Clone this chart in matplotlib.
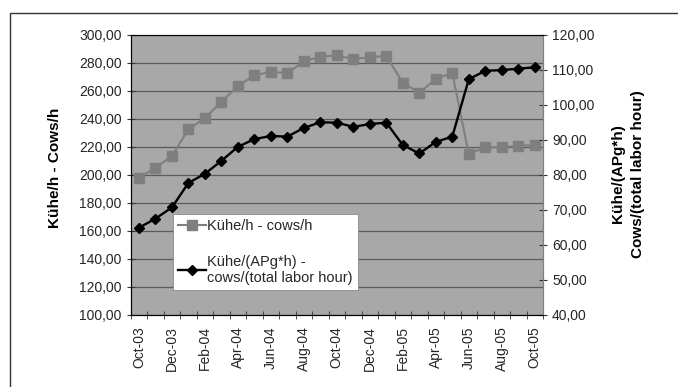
import numpy as np
import matplotlib
matplotlib.use("Agg")
import matplotlib.pyplot as plt
from matplotlib.ticker import FuncFormatter
from matplotlib.patches import Rectangle

plt.rcParams['font.family'] = ['Liberation Sans', 'DejaVu Sans']

# monthly values Oct-03 .. Oct-05
months = ['Oct-03', 'Nov-03', 'Dec-03', 'Jan-04', 'Feb-04', 'Mar-04', 'Apr-04',
          'May-04', 'Jun-04', 'Jul-04', 'Aug-04', 'Sep-04', 'Oct-04', 'Nov-04',
          'Dec-04', 'Jan-05', 'Feb-05', 'Mar-05', 'Apr-05', 'May-05', 'Jun-05',
          'Jul-05', 'Aug-05', 'Sep-05', 'Oct-05']
cows_h = [198, 205, 213.5, 232.5, 240.5, 252, 263.5, 271, 273.5, 272.5, 281,
          284.3, 285.3, 282.5, 284, 284.8, 265.7, 258.6, 268.4, 272.8, 214.8,
          219.8, 219.6, 220.7, 221.4]
cows_labor = [64.9, 67.5, 70.7, 77.7, 80.3, 84.0, 88.0, 90.2, 91.1, 90.9, 93.4,
              95.0, 94.9, 93.7, 94.5, 94.9, 88.5, 86.1, 89.4, 90.9, 107.3,
              109.7, 109.9, 110.3, 110.7]

label1 = 'Kühe/h - cows/h'
label2 = 'Kühe/(APg*h) -\ncows/(total labor hour)'

fig = plt.figure(figsize=(6.78, 3.87), dpi=100)
fig.patches.append(Rectangle((10 / 678, -0.1), 1.2, 1 - 13 / 387 + 0.1,
                             transform=fig.transFigure, fill=False,
                             edgecolor='#333333', linewidth=1.0))

ax = fig.add_axes([130.7 / 678, 1 - 315 / 387, (543 - 130.7) / 678, (315 - 34.7) / 387])
ax.set_facecolor('#a8a8a8')
x = np.arange(len(months))

comma = FuncFormatter(lambda v, p: f'{v:.2f}'.replace('.', ','))
tick_col = '#262626'

l1, = ax.plot(x, cows_h, color='#7f7f7f', marker='s', markersize=6.5,
              linewidth=1.5, label=label1, zorder=3)
ax.set_ylim(100, 300)
ax.set_yticks(np.arange(100, 301, 20))
ax.yaxis.set_major_formatter(comma)
ax.yaxis.grid(True, color='#5a5a5a', linewidth=0.9)
ax.set_axisbelow(True)
ax.set_xlim(-0.5, len(months) - 0.5)
ax.set_xticks(x[::2])
ax.set_xticklabels(months[::2], rotation=90)
ax.set_xticks(np.arange(-0.5, len(months), 1), minor=True)
ax.tick_params(axis='x', which='major', length=0, pad=8, labelsize=10, labelcolor=tick_col)
ax.tick_params(axis='x', which='minor', direction='inout', length=6, color='#333333')
ax.tick_params(axis='y', direction='inout', length=6, labelsize=10, color='#333333',
               labelcolor=tick_col)
for s in ['top', 'right']:
    ax.spines[s].set_color('#7f7f7f')
for s in ['left', 'bottom']:
    ax.spines[s].set_color('#333333')

ax2 = ax.twinx()
l2, = ax2.plot(x, cows_labor, color='black', marker='D', markersize=5.5,
               linewidth=1.7, label=label2, zorder=3)
ax2.set_ylim(40, 120)
ax2.set_yticks(np.arange(40, 121, 10))
ax2.yaxis.set_major_formatter(comma)
ax2.tick_params(axis='y', direction='inout', length=6, labelsize=10, color='#333333',
                labelcolor=tick_col)
ax2.spines['right'].set_color('#7f7f7f')

leg = ax2.legend(handles=[l1, l2], loc='upper left',
                 bbox_to_anchor=(172.7 / 678, 1 - 214 / 387),
                 bbox_transform=fig.transFigure, fontsize=10.5, frameon=True,
                 fancybox=False, edgecolor='#888888', framealpha=1,
                 labelspacing=1.5, handlelength=1.9, handletextpad=0.1,
                 borderpad=0.35, borderaxespad=0, labelcolor=tick_col)
leg.get_frame().set_linewidth(0.6)

fig.text(55 / 678, 1 - 168 / 387, 'Kühe/h - Cows/h', rotation=90,
         ha='center', va='center', fontsize=11, fontweight='bold')
fig.text(628 / 678, 1 - 174 / 387, 'Kühe/(APg*h)\nCows/(total labor hour)',
         rotation=90, ha='center', va='center', fontsize=11,
         fontweight='bold', multialignment='center', linespacing=1.5)

fig.savefig('out.png', dpi=100)
